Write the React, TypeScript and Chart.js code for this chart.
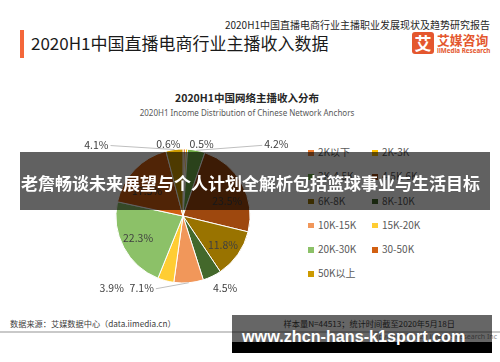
import React, { useEffect, useRef } from 'react';
import { Chart, registerables } from 'chart.js';

Chart.register(...registerables);

const categories = ['2K以下', '2K-3K', '3K-4.5K', '4.5K-6K', '6K-8K', '8K-10K', '10K-15K', '15K-20K', '20K-30K', '30-50K', '50K以上'];
const shares = [0.6, 0.5, 4.2, 23.5, 11.8, 4.5, 7.1, 3.9, 22.3, 17.5, 4.1];
const colors = ['#ED7D31', '#FFC000', '#70AD47', '#9E480E', '#997300', '#43682B', '#F1975A', '#FFCD33', '#8CC168', '#D26012', '#CC9A00'];
// label nudges (px) relative to the slice anchor, and whether a leader line is drawn
const labelShift = [[-16, -5], [15, -5], [80, -6], [3, 7], [1.5, 2], [13, 12], [-47, 5], [-54, 7], [-3.5, 0], [-2, 7], [-78, -5]];
const leader = [false, false, true, false, false, false, true, false, false, false, true];

const CJK = '"Noto Sans CJK SC", "Noto Sans", sans-serif';

const labelPlugin = {
  id: 'sliceLabels',
  afterDatasetsDraw(chart: any) {
    const ctx = chart.ctx;
    const meta = chart.getDatasetMeta(0);
    ctx.save();
    ctx.font = '10.5px ' + CJK;
    ctx.textAlign = 'center';
    ctx.textBaseline = 'middle';
    meta.data.forEach((arc: any, i: number) => {
      const p = arc.getProps(['x', 'y', 'startAngle', 'endAngle', 'outerRadius'], true);
      const mid = (p.startAngle + p.endAngle) / 2;
      const v = shares[i];
      const text = v.toFixed(1) + '%';
      const inside = v >= 10;
      const r = inside ? p.outerRadius * 0.7 : p.outerRadius;
      const ax = p.x + Math.cos(mid) * r;
      const ay = p.y + Math.sin(mid) * r;
      const [dx, dy] = labelShift[i];
      const lx = ax + dx;
      const ly = ay + dy;
      if (leader[i]) {
        const w = ctx.measureText(text).width;
        const sx = lx + (dx < 0 ? w / 2 + 2 : -w / 2 - 2);
        ctx.strokeStyle = '#BFBFBF';
        ctx.lineWidth = 1;
        ctx.beginPath();
        ctx.moveTo(sx, ly + 1);
        ctx.lineTo(ax, ay);
        ctx.stroke();
      }
      ctx.fillStyle = '#404040';
      ctx.fillText(text, lx, ly);
    });
    ctx.restore();
  },
};

const abs = (s: React.CSSProperties): React.CSSProperties => ({ position: 'absolute', whiteSpace: 'nowrap', ...s });

export default function App() {
  const ref = useRef<HTMLCanvasElement>(null);
  useEffect(() => {
    document.body.style.margin = '0';
    const chart = new Chart(ref.current as HTMLCanvasElement, {
      type: 'pie',
      data: {
        labels: categories,
        datasets: [{ data: shares, backgroundColor: colors, borderColor: '#ffffff', borderWidth: 1 }],
      },
      options: {
        responsive: false,
        animation: false,
        devicePixelRatio: 1,
        layout: { padding: { left: 55.5, right: 55.5, top: 28.5, bottom: 28.5 } },
        plugins: { legend: { display: false }, tooltip: { enabled: false }, title: { display: false } },
      },
      plugins: [labelPlugin],
    } as any);
    return () => chart.destroy();
  }, []);

  return (
    <div style={{ position: 'relative', width: 500, height: 362, background: '#fff', overflow: 'hidden', fontFamily: CJK }}>
      {/* header */}
      <div style={abs({ right: 10, top: 19, fontSize: 10, lineHeight: '12px', color: '#262626' })}>2020H1中国直播电商行业主播职业发展现状及趋势研究报告</div>
      <div style={abs({ left: 20, top: 30, width: 4, height: 28, background: '#F4673A' })} />
      <div style={abs({ left: 31, top: 33, fontSize: 17, lineHeight: '20px', color: '#1a1a1a' })}>2020H1中国直播电商行业主播收入数据</div>
      <div style={abs({ left: 412, top: 32, width: 22, height: 22, borderRadius: 3, background: '#E4572E', color: '#fff', fontSize: 17, fontWeight: 700, lineHeight: '21px', textAlign: 'center' })}>艾</div>
      <div style={abs({ left: 437, top: 32, fontSize: 12.8, fontWeight: 700, lineHeight: '15px', color: '#E4572E' })}>艾媒咨询</div>
      <div style={abs({ left: 437, top: 47, fontSize: 6.3, fontWeight: 700, lineHeight: '8px', color: '#E4572E', fontFamily: '"Noto Sans", sans-serif' })}>iiMedia Research</div>

      {/* chart titles */}
      <div style={abs({ left: 0, width: 494, top: 91, textAlign: 'center', fontSize: 10.5, fontWeight: 700, lineHeight: '13px', color: '#262626' })}>2020H1中国网络主播收入分布</div>
      <div style={abs({ left: 0, width: 494, top: 107, textAlign: 'center', fontSize: 8, lineHeight: '11px', color: '#595959', fontFamily: '"Noto Sans", sans-serif' })}>2020H1 Income Distribution of Chinese Network Anchors</div>

      <canvas ref={ref} width={246} height={192} style={{ position: 'absolute', left: 60, top: 120, width: 246, height: 192 }} />

      {/* legend */}
      {categories.map((c, i) => {
        const col = i % 2;
        const row = Math.floor(i / 2);
        const cy = 152.7 + row * 24.2;
        const x = 308 + col * 64;
        return (
          <React.Fragment key={c}>
            <div style={abs({ left: x, top: cy - 2.5, width: 5.5, height: 5.5, background: colors[i] })} />
            <div style={abs({ left: x + 10, top: cy - 7.5, fontSize: 10, lineHeight: '14px', color: '#595959' })}>{c}</div>
          </React.Fragment>
        );
      })}

      {/* footer */}
      <div style={abs({ left: 10, top: 318, fontSize: 8.2, lineHeight: '11px', color: '#404040' })}>数据来源：艾媒数据中心（data.iimedia.cn）</div>
      <div style={abs({ right: 45, top: 318, fontSize: 8.2, lineHeight: '11px', color: '#404040' })}>样本量N=44513；统计时间截至2020年5月18日</div>
      <div style={abs({ left: 0, top: 331, width: 500, height: 2, background: '#C9C9C9' })} />
      <div style={abs({ right: 3, top: 332, fontSize: 7, lineHeight: '9px', color: '#8c8c8c', fontFamily: '"Noto Sans", sans-serif' })}>Copyright © 2020 iiMedia Research Inc</div>

      {/* overlays */}
      <div style={abs({ left: 20, top: 152, width: 470, height: 58, background: 'rgba(0,0,0,0.62)' })} />
      <div style={abs({ left: 21, top: 171, fontSize: 17, fontWeight: 700, lineHeight: '24px', color: '#fff' })}>老詹畅谈未来展望与个人计划全解析包括篮球事业与生活目标</div>
      <div style={abs({ left: 232, top: 315, width: 260, height: 27, background: 'rgba(0,0,0,0.6)' })} />
      <div style={abs({ left: 232, top: 342, width: 260, height: 11, background: '#000' })} />
      <div style={abs({ left: 242, top: 328.3, fontSize: 16.2, fontWeight: 700, lineHeight: 1, color: '#fff', fontFamily: '"Liberation Sans", Arial, sans-serif' })}>www.zhcn-hans-k1sport.com</div>
    </div>
  );
}
